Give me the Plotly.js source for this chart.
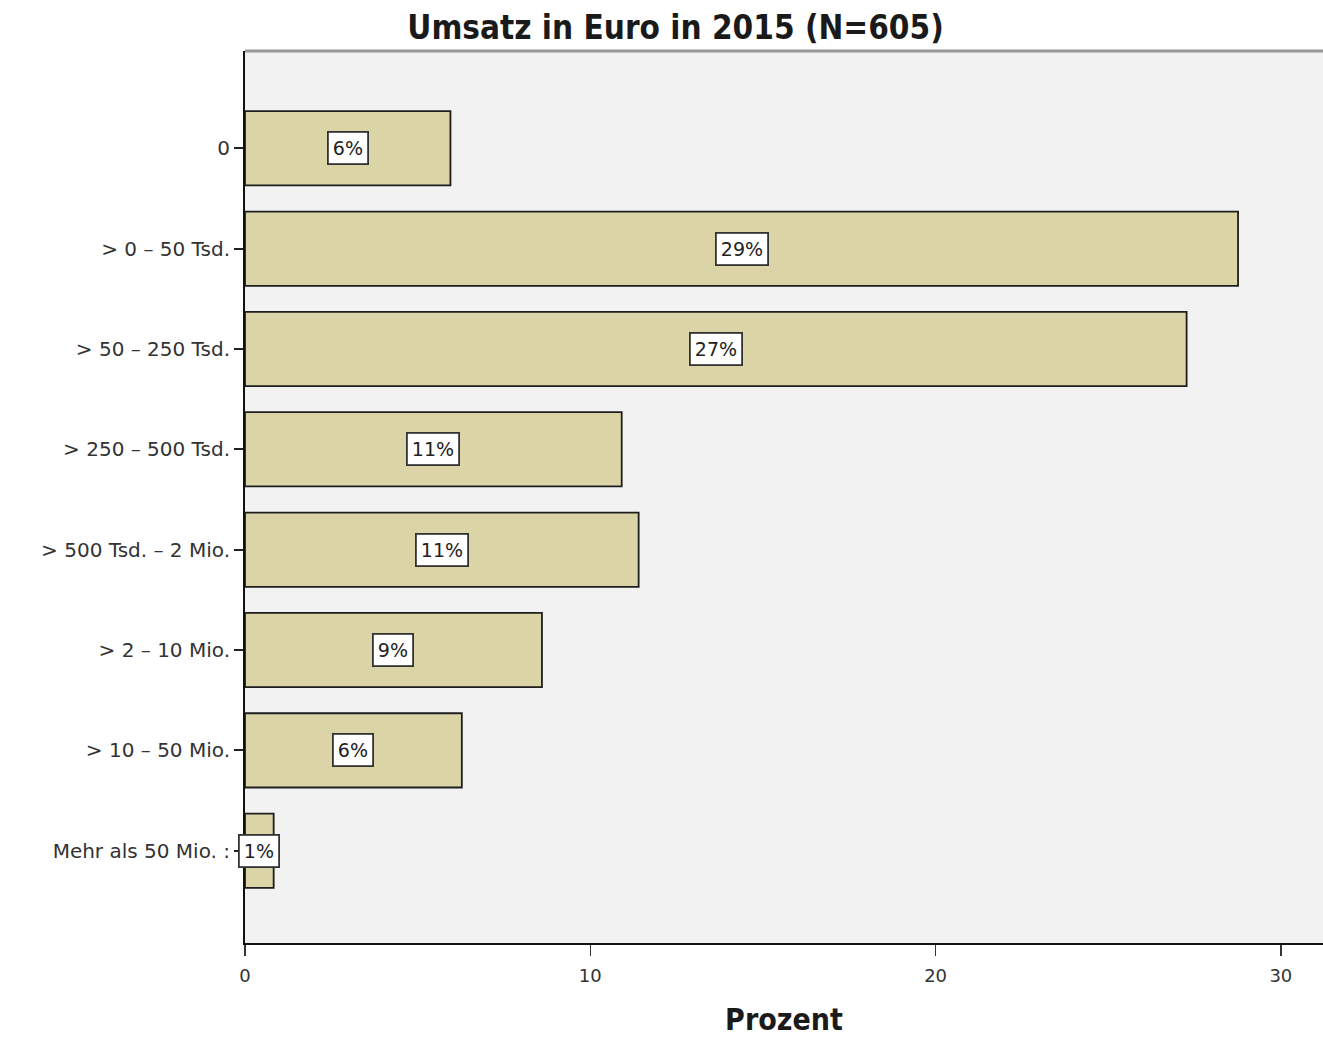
<!DOCTYPE html>
<html>
<head>
<meta charset="utf-8">
<script src="https://cdn.plot.ly/plotly-3.0.1.min.js"></script>
<style>html,body{margin:0;padding:0;background:#fff;}#chart{width:1323px;height:1038px;}</style>
</head>
<body>
<div id="chart"></div>
<script>
const categories = ["0", "> 0 – 50 Tsd.", "> 50 – 250 Tsd.", "> 250 – 500 Tsd.", "> 500 Tsd. – 2 Mio.", "> 2 – 10 Mio.", "> 10 – 50 Mio.", "Mehr als 50 Mio. :"];
const percentValues = [5.95, 28.76, 27.27, 10.91, 11.40, 8.60, 6.28, 0.83];
const xTickValues = [0, 10, 20, 30];
const chartTitle = "Umsatz in Euro in 2015 (N=605)";
const xTitle = "Prozent";

const trace = {
  type: "bar",
  orientation: "h",
  x: percentValues,
  y: categories,
  width: 0.74,
  marker: {color: "#dad4a6", line: {color: "#1e1e1e", width: 1.8}},
  hoverinfo: "none"
};

const annotations = percentValues.map((v, i) => ({
  x: v / 2, y: categories[i], xref: "x", yref: "y",
  text: Math.round(v) + "%",
  showarrow: false,
  font: {family: "DejaVu Sans", size: 19, color: "#222"},
  bgcolor: "#ffffff",
  bordercolor: "#333333",
  borderwidth: 1.8,
  borderpad: 4
}));

const layout = {
  width: 1323, height: 1038,
  margin: {l: 245, r: 0, t: 51, b: 95},
  paper_bgcolor: "#ffffff",
  plot_bgcolor: "#f2f2f2",
  showlegend: false,
  title: {
    text: chartTitle,
    x: 0.5106, xref: "container", xanchor: "center",
    y: 1 - 27 / 1038, yref: "container", yanchor: "middle",
    font: {family: "DejaVu Sans Condensed", size: 33, weight: "bold", color: "#1a1a1a"}
  },
  xaxis: {
    range: [0, 31.22],
    tickvals: xTickValues,
    ticktext: xTickValues.map(String),
    ticks: "outside", ticklen: 11, tickwidth: 1.5, tickcolor: "#333",
    ticklabelstandoff: 4,
    showline: true, linecolor: "#111", linewidth: 2,
    showgrid: false, zeroline: false,
    tickfont: {family: "DejaVu Sans", size: 18, color: "#333"},
    title: {text: xTitle, standoff: 24, font: {family: "DejaVu Sans Condensed", size: 30, weight: "bold", color: "#1a1a1a"}}
  },
  yaxis: {
    type: "category",
    range: [7.92, -0.97],
    ticks: "outside", ticklen: 9, tickwidth: 2, tickcolor: "#222",
    showline: true, linecolor: "#111", linewidth: 2,
    showgrid: false, zeroline: false,
    tickfont: {family: "DejaVu Sans", size: 20, color: "#333"}
  },
  annotations: annotations,
  shapes: [{
    type: "line", xref: "paper", yref: "paper", x0: 0, x1: 1, y0: 1, y1: 1,
    line: {color: "#999999", width: 3}
  }]
};

Plotly.newPlot("chart", [trace], layout, {displayModeBar: false, staticPlot: true});
</script>
</body>
</html>
